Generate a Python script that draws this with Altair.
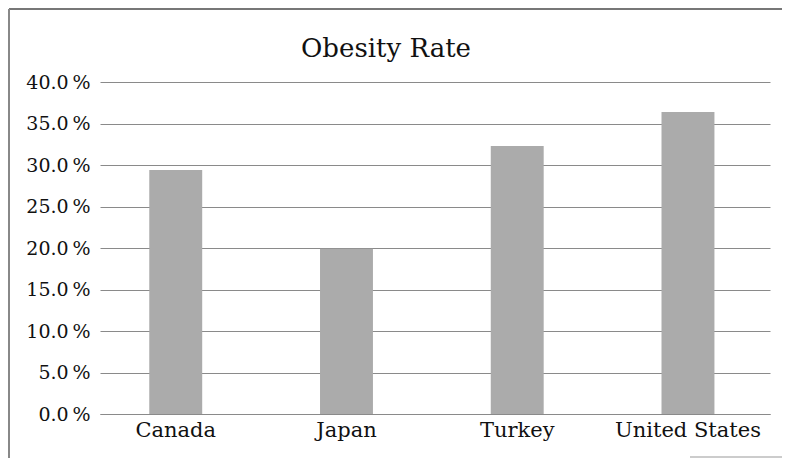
import altair as alt
import pandas as pd

countries = ["Canada", "Japan", "Turkey", "United States"]
rates = [0.294, 0.199, 0.323, 0.364]
chart_title = "Obesity Rate"

df = pd.DataFrame({"country": countries, "rate": rates})

FONT = "DejaVu Serif"

bars = alt.Chart(df).mark_bar(color="#ababab").encode(
    x=alt.X("country:N", sort=countries,
            scale=alt.Scale(paddingInner=0.69, paddingOuter=0.307, align=0.47),
            axis=alt.Axis(title=None, labelAngle=0, ticks=False, domain=True,
                          domainColor="#8a8a8a", labelFontSize=21, labelPadding=5,
                          labelColor="#111111", labelFont=FONT)),
    y=alt.Y("rate:Q", scale=alt.Scale(domain=[0, 0.4]),
            axis=alt.Axis(title=None, values=[i * 0.05 for i in range(9)],
                          labelExpr="format(datum.value * 100, '.1f') + '\u2009%'",
                          ticks=False, domain=False, gridColor="#8a8a8a", gridWidth=1,
                          labelFontSize=19, labelPadding=10, labelColor="#111111",
                          labelFont=FONT)),
)

title_text = alt.Chart(pd.DataFrame({"t": [chart_title]})).mark_text(
    font=FONT, fontSize=26, color="#111111", baseline="middle", align="center"
).encode(text="t:N", x=alt.value(286), y=alt.value(-33))

one = pd.DataFrame({"k": [0]})
frame_top = alt.Chart(one).mark_rule(stroke="#777777", strokeWidth=2, clip=False).encode(
    x=alt.value(-91), x2=alt.value(690), y=alt.value(-73)
)
frame_left = alt.Chart(one).mark_rule(stroke="#888888", strokeWidth=2, clip=False).encode(
    x=alt.value(-91), y=alt.value(-73), y2=alt.value(376)
)
frame_bottom = alt.Chart(one).mark_rule(stroke="#bbbbbb", strokeWidth=1.5, clip=False).encode(
    x=alt.value(590), x2=alt.value(690), y=alt.value(375)
)

chart = alt.layer(bars, title_text, frame_top, frame_left, frame_bottom).properties(
    width=670, height=332,
    padding={"left": 92, "top": 74, "right": 12, "bottom": 44},
    autosize=alt.AutoSizeParams(type="none"),
).configure_view(stroke=None)

chart.save("out.html", embed_options={"renderer": "svg", "actions": False})
